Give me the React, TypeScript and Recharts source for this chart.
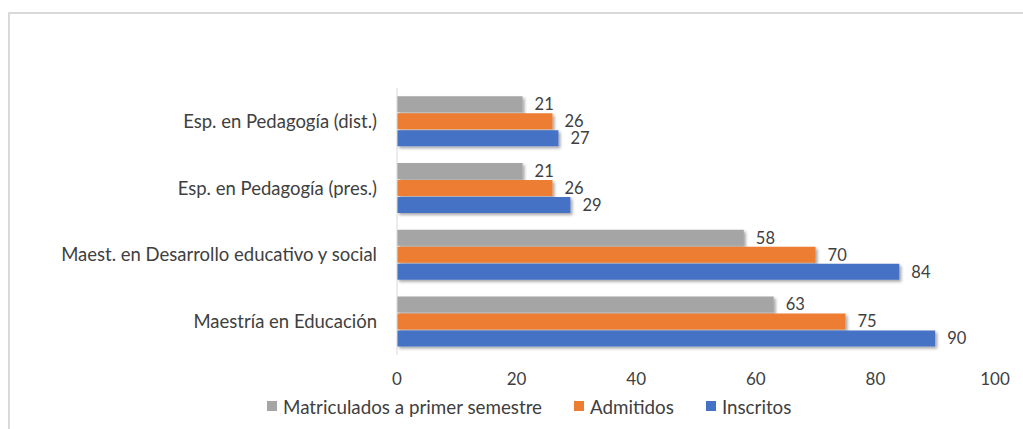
import React from "react";
import { BarChart, Bar, XAxis, YAxis, Legend, LabelList, Rectangle } from "recharts";

const categorias = [
  "Esp. en Pedagogía (dist.)",
  "Esp. en Pedagogía (pres.)",
  "Maest. en Desarrollo educativo y social",
  "Maestría en Educación",
];
const matriculados = [21, 21, 58, 63];
const admitidos = [26, 26, 70, 75];
const inscritos = [27, 29, 84, 90];
const ticksX = [0, 20, 40, 60, 80, 100];

const series = [
  { key: "matriculados", nombre: "Matriculados a primer semestre", color: "#A5A5A5" },
  { key: "admitidos", nombre: "Admitidos", color: "#ED7D31" },
  { key: "inscritos", nombre: "Inscritos", color: "#4472C4" },
];

const datos = categorias.map((c, i) => ({
  categoria: c,
  matriculados: matriculados[i],
  admitidos: admitidos[i],
  inscritos: inscritos[i],
}));

const FONT = "Lato, 'Liberation Sans', sans-serif";
const TEXTO = "#404040";

function BarraSombra(props: any) {
  return <Rectangle {...props} filter="url(#sombra)" />;
}

function Leyenda() {
  return (
    <div style={{ display: "flex", alignItems: "center", height: 24, fontFamily: FONT, fontSize: 18.8, color: TEXTO }}>
      {series.map((s) => (
        <div key={s.key} style={{ display: "flex", alignItems: "center", marginRight: 32 }}>
          <span style={{ width: 10, height: 10, background: s.color, marginRight: 6, display: "inline-block" }} />
          <span>{s.nombre}</span>
        </div>
      ))}
    </div>
  );
}

export default function App() {
  return (
    <div
      style={{
        position: "fixed",
        left: 8,
        top: 12,
        width: 1015,
        height: 417,
        borderTop: "2px solid #d9d9d9",
        borderLeft: "2px solid #d9d9d9",
        background: "#fff",
      }}
    >
      <svg width={0} height={0} style={{ position: "absolute" }}>
        <defs>
          <filter id="sombra" x="-10%" y="-40%" width="120%" height="200%">
            <feDropShadow dx="2" dy="2" stdDeviation="1.5" floodColor="#000" floodOpacity="0.35" />
          </filter>
        </defs>
      </svg>
      <BarChart
        width={1013}
        height={415}
        data={datos}
        layout="vertical"
        margin={{ top: 74, right: 28, left: 0, bottom: 20 }}
        barCategoryGap="12.5%"
        barGap={1}
      >
        <XAxis
          type="number"
          domain={[0, 100]}
          ticks={ticksX}
          height={30}
          axisLine={false}
          tickLine={false}
          tickSize={0}
          tickMargin={18}
          tick={{ fill: TEXTO, fontSize: 17, fontFamily: FONT }}
        />
        <YAxis
          type="category"
          dataKey="categoria"
          width={387}
          axisLine={{ stroke: "#d9d9d9", strokeWidth: 1 }}
          tickLine={false}
          tickSize={0}
          tickMargin={20}
          tick={{ fill: TEXTO, fontSize: 18.5, fontFamily: FONT }}
        />
        <Legend
          verticalAlign="bottom"
          wrapperStyle={{ left: 257, top: 380, width: "auto", height: 24 }}
          content={() => <Leyenda />}
        />
        {series.map((s) => (
          <Bar
            key={s.key}
            dataKey={s.key}
            name={s.nombre}
            fill={s.color}
            isAnimationActive={false}
            shape={<BarraSombra />}
          >
            <LabelList
              dataKey={s.key}
              position="right"
              offset={12}
              fill={TEXTO}
              fontSize={16.5}
              fontFamily={FONT}
            />
          </Bar>
        ))}
      </BarChart>
    </div>
  );
}
